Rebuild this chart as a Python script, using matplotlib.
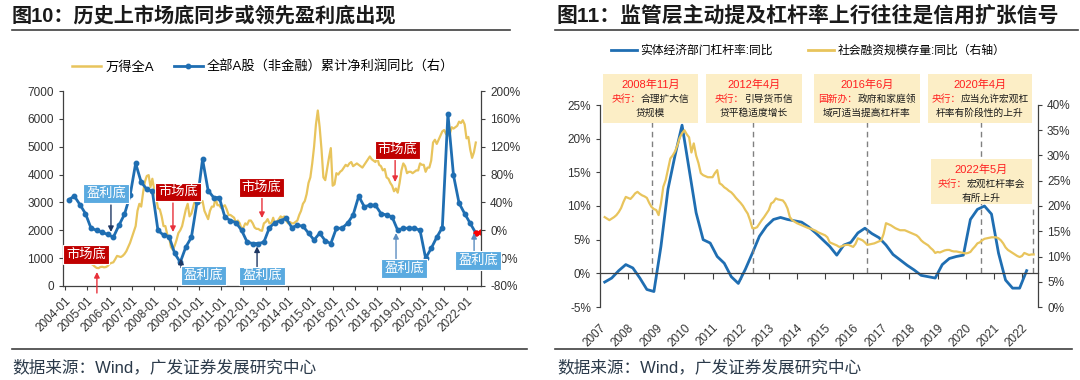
import numpy as np
import matplotlib.pyplot as plt
from matplotlib.lines import Line2D
from matplotlib.patches import Rectangle

plt.rcParams['font.family'] = ['Liberation Sans', 'Noto Sans CJK SC', 'DejaVu Sans']
plt.rcParams['axes.unicode_minus'] = False

W, H = 1080, 380


def fx(x):
    return x / W


def fy(y):
    return 1 - y / H


# ---------------- 图10 data ----------------
# 万得全A, monthly from 2004-01
wind_start = 2004.0
wind_all_a = [
    1000, 1080, 1150, 1120, 1050, 960, 950, 940, 960, 900, 880, 850,
    860, 850, 800, 760, 700, 650, 640, 680, 690, 670, 680, 720,
    800, 830, 850, 960, 1080, 1060, 1040, 1080, 1150, 1250, 1400, 1550,
    1750, 1950, 2150, 2700, 2950, 2850, 3350, 3750, 3950, 3980, 3550, 3850,
    3450, 3200, 2800, 2750, 2500, 2150, 2150, 1850, 1750, 1400, 1300, 1450,
    1650, 1900, 2000, 2150, 2450, 2750, 2950, 2500, 2600, 2850, 3100, 3100,
    2950, 3000, 3050, 2700, 2550, 2400, 2700, 2850, 2850, 3150, 2900, 2900,
    2800, 2850, 2900, 2750, 2550, 2550, 2500, 2450, 2250, 2350, 2250, 2050,
    2100, 2250, 2200, 2350, 2350, 2250, 2100, 2050, 2050, 2000, 1980, 2250,
    2300, 2400, 2250, 2250, 2450, 2200, 2300, 2400, 2500, 2450, 2500, 2350,
    2250, 2300, 2250, 2250, 2300, 2350, 2550, 2700, 2950, 3050, 3300, 3700,
    3900, 4400, 5000, 5800, 6300, 5700, 4900, 3900, 3800, 4200, 4600, 4950,
    3600, 3650, 4050, 4000, 4100, 4150, 4250, 4350, 4300, 4400, 4450, 4300,
    4350, 4400, 4350, 4300, 4250, 4350, 4450, 4550, 4650, 4550, 4500, 4450,
    4600, 4350, 4300, 4150, 4200, 3900, 3850, 3700, 3600, 3400, 3500, 3350,
    3700, 4150, 4400, 4300, 4050, 4100, 4100, 4050, 4100, 4150, 4150, 4400,
    4350, 4350, 4100, 4250, 4250, 4500, 5150, 5250, 5100, 5250, 5400, 5550,
    5600, 5450, 5400, 5450, 5700, 5650, 5700, 5750, 5900, 5850, 5950, 5800,
    5300, 5350, 4900, 4600, 4800, 5150,
]

# 全部A股(非金融)累计净利润同比 %, quarterly from 2004-03 (last two drawn red)
profit_start = 2004 + 2 / 12
profit_yoy = [
    44, 49, 37, 24,
    3, 0, -3, -6,
    -10, 7, 23, 50,
    96, 69, 59, 56,
    0, -7, -9, -33,
    -46, -24, -10, 40,
    102, 57, 47, 47,
    19, 14, 11, 0,
    -17, -19, -19, -17,
    4, 11, 14, 17,
    4, 7, 6, -4,
    -14, -4, -15, -19,
    3, 3, 10, 22,
    49, 34, 36, 36,
    24, 22, 19, 0,
    3, 3, 3, 0,
    -40, -26, -10, 4,
    167, 79, 39, 24,
    10, -4, -3,
]

left_ticks = list(range(2004, 2023))

# ---------------- 图11 data ----------------
# 实体经济部门杠杆率:同比 %, quarterly from 2007-03
lev_start = 2007 + 2 / 12
lev_yoy = [
    -1.3, -0.7, 0.4, 1.3,
    0.8, -0.7, -2.4, -2.7,
    4.0, 12.5, 17.5, 22.0,
    15.5, 9.0, 5.0, 4.5,
    2.5, 1.5, -0.5, -1.5,
    0.6, 3.0, 5.5, 7.0,
    8.0, 8.3, 8.0, 7.8,
    7.6, 6.9, 6.0, 5.0,
    4.0, 2.7, 4.2, 4.6,
    6.0, 6.7, 5.9, 5.3,
    4.2, 2.8, 2.0, 1.2,
    0.5, -0.3, -0.5, -0.7,
    1.3, 2.2, 2.5, 2.7,
    8.0, 9.5, 10.0, 8.8,
    3.0, -1.0, -2.2, -2.2,
    0.4,
]

# 社会融资规模存量:同比 %, monthly from 2007-03
tsf_start = 2007 + 2 / 12
tsf_yoy = [
    17.8, 17.5, 17.2, 17.5, 17.8, 18.2, 18.8, 19.6, 20.8, 21.8,
    21.6, 21.4, 21.9, 22.5, 22.8, 22.4, 22.1, 21.9, 21.6, 20.6, 19.8, 19.4,
    19.2, 18.2, 20.5, 23.8, 25.1, 27.2, 29.4, 30.0, 30.8, 32.0, 33.5, 34.4,
    35.0, 34.2, 33.6, 30.6, 32.4, 30.0, 28.5, 26.5, 26.1, 25.9, 25.7, 25.7,
    25.7, 26.5, 27.1, 24.5, 24.2, 23.7, 23.4, 23.0, 22.7, 22.2, 21.6, 21.1,
    20.6, 20.0, 19.2, 18.5, 17.2, 15.6, 15.6, 15.8, 16.5, 17.2, 17.8, 18.5,
    19.2, 20.5, 20.8, 21.5, 21.3, 21.2, 21.1, 20.5, 19.5, 17.8, 17.2, 16.9,
    16.6, 16.4, 16.2, 16.0, 15.8, 15.6, 15.5, 15.3, 15.1, 14.8, 14.6, 14.4,
    14.2, 13.8, 12.8, 12.6, 12.4, 12.2, 11.9, 12.0, 12.2, 12.3, 12.3, 12.1,
    11.9, 12.5, 13.6, 13.4, 13.2, 12.8, 12.3, 12.4, 12.5, 12.6, 12.8, 13.0,
    13.2, 14.5, 16.6, 16.4, 16.2, 15.9, 15.6, 15.4, 15.2, 15.2, 15.2, 15.0,
    14.8, 14.6, 14.4, 14.2, 13.8, 13.2, 12.8, 12.5, 12.2, 11.7, 11.3, 10.7,
    10.9, 10.8, 11.0, 11.2, 11.3, 11.3, 11.1, 11.0, 11.0, 10.9, 10.8, 10.7,
    10.6, 10.7, 10.9, 11.5, 12.0, 12.6, 12.8, 13.2, 13.5, 13.6, 13.7, 13.8,
    13.8, 13.8, 13.6, 13.2, 12.6, 11.8, 11.3, 11.0, 10.7, 10.4, 10.1, 9.9,
    10.1, 10.7, 10.5, 10.3, 10.4, 10.4,
]

right_ticks = list(range(2007, 2023))

# policy events: dashed line position (year), note
event_x = [2008.84, 2012.43, 2016.5, 2020.55, 2022.4]
event_top = [25, 25, 25, 25, 10.2]
event_date = ['2008年11月', '2012年4月', '2016年6月', '2020年4月', '2022年5月']
event_who = ['央行：', '央行：', '国新办：', '央行：', '央行：']
event_line2 = ['合理扩大信', '引导货币信', '政府和家庭领', '应当允许宏观杠', '宏观杠杆率会']
event_line3 = ['贷规模', '贷平稳适度增长', '域可适当提高杠杆率', '杆率有阶段性的上升', '有所上升']
# note boxes in pixels: x0, y0, x1, y1
event_box = [(603, 74, 698, 123), (706, 74, 802, 123), (814, 74, 920, 123),
             (928, 74, 1032, 123), (931, 159, 1032, 204)]

BLUE = '#1F6EB2'
GOLD = '#E8C45C'
RED_BOX = '#C00000'
BLUE_BOX = '#5AAAE0'
AX_C = '#404040'

fig = plt.figure(figsize=(W / 100, H / 100), dpi=100)

# ================= left chart =================
ax1 = fig.add_axes([fx(63), fy(286), fx(481) - fx(63), (286 - 91) / H])
ax1r = ax1.twinx()

t_wind = wind_start + np.arange(len(wind_all_a)) / 12
t_profit = profit_start + np.arange(len(profit_yoy)) * 0.25

ax1.plot(t_wind, wind_all_a, color=GOLD, lw=1.6)
ax1r.plot(t_profit[:-1], profit_yoy[:-1], color=BLUE, lw=2, marker='o', ms=3.2)
ax1r.plot(t_profit[-2:], profit_yoy[-2:], color='red', lw=1.5, marker='o', ms=3.5)

ax1.set_xlim(2003.91, 2022.65)
ax1.set_xticks(left_ticks)
ax1.set_xticklabels([f'{y}-01' for y in left_ticks], rotation=45, ha='right',
                    rotation_mode='anchor', fontsize=8.5, color='#333333')
ax1.set_ylim(0, 7000)
ax1.set_yticks(range(0, 7001, 1000))
ax1.tick_params(axis='y', labelsize=8.5, labelcolor='#333333')
ax1r.set_ylim(-80, 200)
ax1r.set_yticks(range(-80, 201, 40))
ax1r.set_yticklabels([f'{v}%' for v in range(-80, 201, 40)], fontsize=8.5, color='#333333')
for a in (ax1, ax1r):
    a.tick_params(direction='out', length=3, color=AX_C, width=0.8)
    for s in a.spines.values():
        s.set_color(AX_C)
        s.set_linewidth(0.9)
    a.spines['top'].set_visible(False)
ax1.spines['right'].set_visible(False)
ax1r.spines['left'].set_visible(False)
ax1r.spines['bottom'].set_visible(False)

# 市场底 / 盈利底 labels
left_notes = [
    ('市场底', RED_BOX, (2004.94, 1130), (2005.43, -251, 502), '#E8303A'),
    ('盈利底', BLUE_BOX, (2005.84, 3320), (2006.06, 2907, 1938), '#1F3864'),
    ('市场底', RED_BOX, (2009.07, 3374), (2008.84, 2979, 1938), '#E8303A'),
    ('盈利底', BLUE_BOX, (2010.21, 377), (2009.2, 660, 980), '#1F3864'),
    ('市场底', RED_BOX, (2012.81, 3535), (2012.83, 3159, 2441), '#E8303A'),
    ('盈利底', BLUE_BOX, (2012.83, 359), (2012.61, 682, 1420), '#1F3864'),
    ('市场底', RED_BOX, (2018.91, 4881), (2018.8, 4594, 3733), '#E8303A'),
    ('盈利底', BLUE_BOX, (2019.2, 628), (2018.84, 933, 1902), '#5B8DC0'),
    ('盈利底', BLUE_BOX, (2022.52, 915), (2022.34, 1256, 1902), '#5B8DC0'),
]
for text, fc, (bx, by), (arx, tail, tip), ac in left_notes:
    ax1r.annotate('', xy=(arx, tip), xytext=(arx, tail), xycoords=ax1.transData,
                  textcoords=ax1.transData, annotation_clip=False, zorder=9,
                  arrowprops=dict(arrowstyle='-|>', color=ac, lw=1.0,
                                  mutation_scale=8, shrinkA=0, shrinkB=0))
    ax1r.text(bx, by, text, transform=ax1.transData, ha='center', va='center',
              fontsize=9.5, color='white', zorder=10,
              bbox=dict(boxstyle='square,pad=0.22', fc=fc, ec='white', lw=0.8))

fig.legend([Line2D([], [], color=GOLD, lw=1.8),
            Line2D([], [], color=BLUE, lw=2, marker='o', ms=3.2)],
           ['万得全A', '全部A股（非金融）累计净利润同比（右）'],
           loc='center', bbox_to_anchor=(fx(263), fy(67)), ncol=2, frameon=False,
           fontsize=9.5, handlelength=2.2, columnspacing=1.5, handletextpad=0.3)

# ================= right chart =================
ax2 = fig.add_axes([fx(600), fy(307), fx(1038) - fx(600), (307 - 105) / H])
ax2r = ax2.twinx()
ax2.spines['bottom'].set_position(('data', 0))

t_lev = lev_start + np.arange(len(lev_yoy)) * 0.25
t_tsf = tsf_start + np.arange(len(tsf_yoy)) / 12

ax2.plot(t_lev, lev_yoy, color=BLUE, lw=2)
ax2r.plot(t_tsf, tsf_yoy, color=GOLD, lw=1.6)
ax2.vlines(event_x, 0, event_top, colors='#808080', linestyles=(0, (4, 3)), lw=1)

ax2.set_xlim(2007, 2022.57)
ax2.set_ylim(-5, 25)
ax2.set_xticks(right_ticks)
ax2.set_xticklabels([str(y) for y in right_ticks], rotation=45, ha='right',
                    rotation_mode='anchor', fontsize=8.5, color='#333333')
ax2.set_yticks(range(-5, 26, 5))
ax2.set_yticklabels([f'{v}%' for v in range(-5, 26, 5)], fontsize=8.5, color='#333333')
ax2r.set_ylim(0, 40)
ax2r.set_yticks(range(0, 41, 5))
ax2r.set_yticklabels([f'{v}%' for v in range(0, 41, 5)], fontsize=8.5, color='#333333')
for a in (ax2, ax2r):
    a.tick_params(direction='out', length=3, color=AX_C, width=0.8)
    for s in a.spines.values():
        s.set_color(AX_C)
        s.set_linewidth(0.9)
    a.spines['top'].set_visible(False)
ax2.spines['right'].set_visible(False)
ax2r.spines['left'].set_visible(False)
ax2r.spines['bottom'].set_visible(False)
ax2.tick_params(axis='x', length=4, pad=31)

# policy note boxes
fs_note = 7
em = fs_note * 100 / 72
for i, (x0, y0, x1, y1) in enumerate(event_box):
    fig.patches.append(Rectangle((fx(x0), fy(y1)), (x1 - x0) / W, (y1 - y0) / H,
                                 transform=fig.transFigure, fc='#FCEEC6', ec='none', zorder=5))
    cx = (x0 + x1) / 2
    fig.text(fx(cx), fy(y0 + 11), event_date[i], color='#FF2020', fontsize=8,
             ha='center', va='center', zorder=6)
    n1, n2 = len(event_who[i]), len(event_line2[i])
    xs = cx - (n1 + n2) * em / 2 + n1 * em
    fig.text(fx(xs), fy(y0 + 25), event_who[i], color='#FF2020', fontsize=fs_note,
             ha='right', va='center', zorder=6)
    fig.text(fx(xs), fy(y0 + 25), event_line2[i], color='#1A1A1A', fontsize=fs_note,
             ha='left', va='center', zorder=6)
    fig.text(fx(cx), fy(y0 + 39), event_line3[i], color='#1A1A1A', fontsize=fs_note,
             ha='center', va='center', zorder=6)

fig.legend([Line2D([], [], color=BLUE, lw=2), Line2D([], [], color=GOLD, lw=2)],
           ['实体经济部门杠杆率:同比', '社会融资规模存量:同比（右轴）'],
           loc='center', bbox_to_anchor=(fx(808), fy(51)), ncol=2, frameon=False,
           fontsize=8.5, handlelength=2.2, columnspacing=3.0, handletextpad=0.3)

# ================= titles, rules, sources =================
fig.text(fx(12), fy(16), '图10：历史上市场底同步或领先盈利底出现', fontsize=14.5,
         weight='bold', va='center', color='#1A1A1A')
fig.text(fx(557), fy(16), '图11：监管层主动提及杠杆率上行往往是信用扩张信号', fontsize=15,
         weight='bold', va='center', color='#1A1A1A')
for (xa, xb, yy) in [(12, 510, 30), (555, 1078, 30), (12, 527, 349), (555, 1072, 349)]:
    fig.add_artist(Line2D([fx(xa), fx(xb)], [fy(yy), fy(yy)], color='#404040', lw=1.2))
fig.text(fx(12), fy(367), '数据来源：Wind，广发证券发展研究中心', fontsize=12,
         va='center', color='#2B3A4A')
fig.text(fx(557), fy(367), '数据来源：Wind，广发证券发展研究中心', fontsize=12,
         va='center', color='#2B3A4A')

fig.savefig('out.png', dpi=100)
